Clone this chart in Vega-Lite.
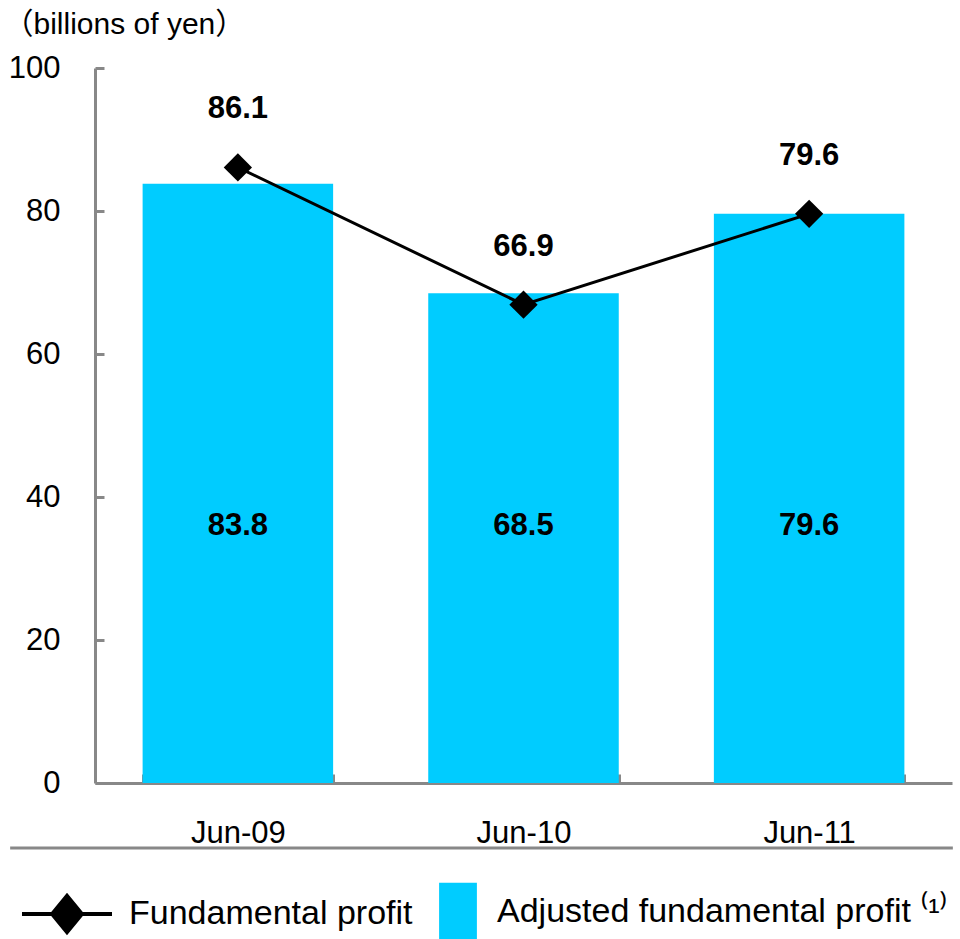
{
  "$schema": "https://vega.github.io/schema/vega-lite/v6.json",
  "autosize": {"type": "none"},
  "padding": {"left": 95, "top": 68, "right": 8, "bottom": 156},
  "width": 857,
  "height": 715,
  "background": "white",
  "config": {
    "view": {"stroke": null},
    "font": "Liberation Sans, Arial, sans-serif",
    "axis": {"grid": false, "domainColor": "#888888", "domainWidth": 3, "tickColor": "#888888", "tickWidth": 3, "labelColor": "black", "labelFont": "Liberation Sans, Arial, sans-serif", "labelFontSize": 31}
  },
  "data": {"values": [
    {"period": "Jun-09", "adj": 83.8, "fund": 86.1},
    {"period": "Jun-10", "adj": 68.5, "fund": 66.9},
    {"period": "Jun-11", "adj": 79.6, "fund": 79.6}
  ]},
  "resolve": {"scale": {"x": "independent"}, "axis": {"x": "independent"}},
  "layer": [
    {
      "encoding": {
        "x": {"field": "period", "type": "nominal", "sort": null,
          "scale": {"paddingInner": 0.333, "paddingOuter": 0.1667},
          "axis": {"title": null, "labelAngle": 0, "tickBand": "extent", "tickSize": -9, "labelPadding": 44}}
      },
      "layer": [
        {
          "mark": {"type": "bar"},
          "encoding": {
            "y": {"field": "adj", "type": "quantitative",
              "scale": {"domain": [0, 100], "nice": false, "zero": true},
              "axis": {"values": [0, 20, 40, 60, 80, 100], "tickSize": -9, "labelPadding": 44,
                "title": "（billions of yen）", "titleAngle": 0, "titleAlign": "left", "titleBaseline": "alphabetic",
                "titleX": -92, "titleY": -35, "titleFontSize": 30, "titleFontWeight": "normal", "titleColor": "black",
                "titleFont": "Liberation Sans, Noto Sans CJK JP, sans-serif"}},
            "fill": {"datum": "Adjusted fundamental profit",
              "scale": {"domain": ["Adjusted fundamental profit"], "range": ["#00CCFF"]},
              "legend": {"title": null, "orient": "none", "legendX": 318, "legendY": 799, "padding": 0,
                "symbolType": "M-0.42,-0.65H0.42V0.65H-0.42Z", "symbolSize": 8100, "symbolStrokeWidth": 0,
                "labelFontSize": 34, "labelColor": "black", "labelOffset": -6, "labelLimit": 600,
                "labelExpr": "datum.label + ' ⁽¹⁾'"}}
          }
        },
        {
          "mark": {"type": "line", "strokeWidth": 3},
          "encoding": {
            "y": {"field": "fund", "type": "quantitative"},
            "stroke": {"datum": "Fundamental profit",
              "scale": {"domain": ["Fundamental profit"], "range": ["black"]},
              "legend": {"title": null, "orient": "none", "legendX": -75, "legendY": 799, "padding": 0,
                "symbolType": "M-1,0H1M-0.33,0L0,-0.4L0.33,0L0,0.4Z", "symbolSize": 8100,
                "symbolStrokeWidth": 4, "symbolFillColor": "black", "symbolStrokeColor": "black",
                "labelFontSize": 34, "labelColor": "black", "labelOffset": 15, "labelLimit": 600}}
          }
        },
        {
          "mark": {"type": "point", "shape": "diamond", "filled": true, "color": "black", "size": 800, "opacity": 1},
          "encoding": {
            "y": {"field": "fund", "type": "quantitative"}
          }
        },
        {
          "mark": {"type": "text", "fontSize": 31, "fontWeight": "bold", "color": "black", "dy": -58},
          "encoding": {
            "y": {"field": "fund", "type": "quantitative"},
            "text": {"field": "fund", "type": "quantitative", "format": ".1f"}
          }
        },
        {
          "mark": {"type": "text", "fontSize": 31, "fontWeight": "bold", "color": "black"},
          "encoding": {
            "y": {"datum": 36},
            "text": {"field": "adj", "type": "quantitative", "format": ".1f"}
          }
        }
      ]
    },
    {
      "data": {"values": [{"a": 0}]},
      "mark": {"type": "rule", "clip": false, "color": "#888888", "strokeWidth": 3},
      "encoding": {
        "x": {"datum": -0.099, "type": "quantitative", "scale": {"domain": [0, 1], "nice": false, "zero": false}, "axis": null},
        "x2": {"datum": 1.001},
        "y": {"datum": -9.1, "type": "quantitative"}
      }
    }
  ]
}
